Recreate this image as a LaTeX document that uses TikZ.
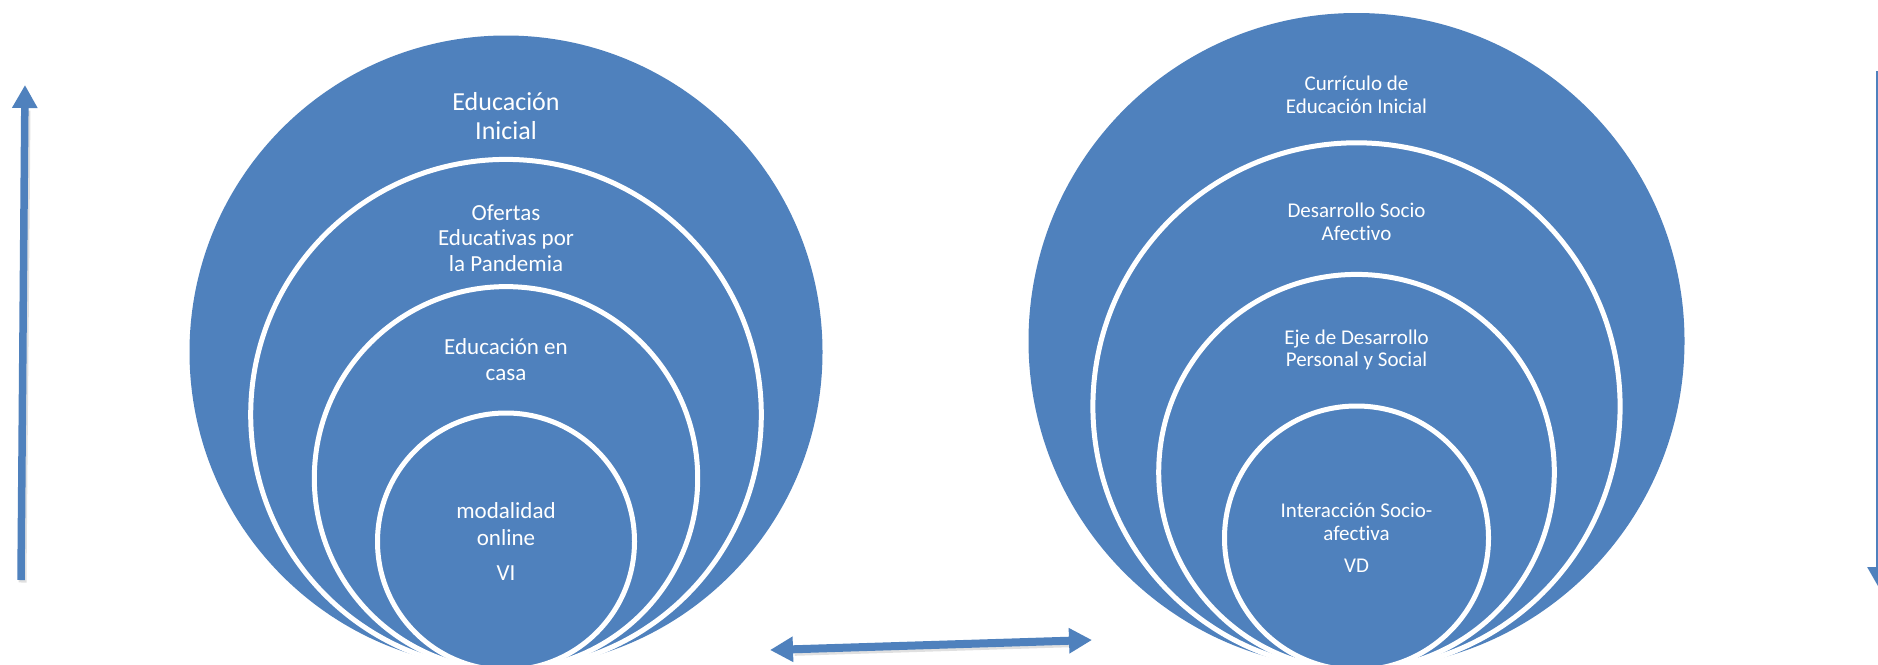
\documentclass[tikz,border=0pt]{standalone}
\usepackage{fontspec}
\setmainfont{Carlito}[Ligatures={NoCommon,NoRare,NoDiscretionary}]
\usetikzlibrary{arrows.meta,calc}
\definecolor{smartblue}{HTML}{4F81BD}
\tikzset{
  outerc/.style={circle, fill=smartblue, draw=none, inner sep=0pt, outer sep=0pt},
  ringc/.style={circle, fill=smartblue, draw=white, line width=5pt, inner sep=0pt, outer sep=0pt},
  txtbig/.style={text=white, anchor=base, inner sep=0pt, font=\fontsize{26}{29}\selectfont},
  txtmid/.style={text=white, anchor=base, inner sep=0pt, font=\fontsize{23}{26}\selectfont},
  txtsml/.style={text=white, anchor=base, inner sep=0pt, font=\fontsize{21}{23}\selectfont},
  blockarrow/.style={draw=smartblue, line width=7.5pt, -{Triangle[width=24pt,length=23pt]}},
  blockdouble/.style={draw=smartblue, line width=8pt, {Triangle[width=24pt,length=23pt]}-{Triangle[width=24pt,length=23pt]}},
  shadowline/.style={draw=black, draw opacity=0.12, line width=8pt},
}
\begin{document}
\begin{tikzpicture}[x=1pt,y=-1pt]
\useasboundingbox (0,0) rectangle (1878,664);
\fill[white] (0,0) rectangle (1878,664);

% ---------- left nested circles ----------
\node[outerc, minimum size=633pt] (L1) at (506,352) {};
\node[ringc, minimum size=510.6pt] (L2) at (506,414.7) {};
\node[ringc, minimum size=383.4pt] (L3) at (506,478.3) {};
\node[ringc, minimum size=257pt] (L4) at (506,541.5) {};

\node[txtbig] (l1a) at (506,110) {Educación};
\node[txtbig] (l1b) at (506,139) {Inicial};
\node[txtmid] (l2a) at (506,220.5) {Ofertas};
\node[txtmid] (l2b) at (506,245.8) {Educativas por};
\node[txtmid] (l2c) at (506,271.8) {la Pandemia};
\node[txtmid] (l3a) at (506,354.2) {Educación en};
\node[txtmid] (l3b) at (506,380.2) {casa};
\node[txtmid] (l4a) at (506,518.2) {modalidad};
\node[txtmid] (l4b) at (506,545) {online};
\node[txtmid] (l4c) at (506,580.7) {VI};

% ---------- right nested circles ----------
\node[outerc, minimum size=656pt] (R1) at (1356.5,341) {};
\node[ringc, minimum size=527.2pt] (R2) at (1356.5,406.4) {};
\node[ringc, minimum size=395.6pt] (R3) at (1356.5,472.2) {};
\node[ringc, minimum size=264pt] (R4) at (1356.5,538) {};

\node[txtsml] (r1a) at (1356.5,90.7) {Currículo de};
\node[txtsml] (r1b) at (1356.5,113.3) {Educación Inicial};
\node[txtsml] (r2a) at (1356.5,217.3) {Desarrollo Socio};
\node[txtsml] (r2b) at (1356.5,240) {Afectivo};
\node[txtsml] (r3a) at (1356.5,344) {Eje de Desarrollo};
\node[txtsml] (r3b) at (1356.5,366.7) {Personal y Social};
\node[txtsml] (r4a) at (1356.5,517) {Interacción Socio-};
\node[txtsml] (r4b) at (1356.5,540.6) {afectiva};
\node[txtsml] (r4c) at (1356.5,572) {VD};

% ---------- arrows ----------
\coordinate (la1) at (21,580);
\coordinate (la2) at (25,85);
\coordinate (ra1) at (1880,71);
\coordinate (ra2) at (1880,590);
\coordinate (ba1) at (770,650);
\coordinate (ba2) at (1092,640);

\draw[shadowline, transform canvas={shift={(1.5pt,-2.5pt)}}] (la1) -- ($(la2)+(0,23)$);
\draw[shadowline, transform canvas={shift={(1.5pt,-2.5pt)}}] ($(ba1)+(23,-0.7)$) -- ($(ba2)+(-23,0.7)$);

\draw[blockarrow] (la1) -- (la2);
\draw[blockarrow] (ra1) -- (ra2);
\draw[blockdouble] (ba1) -- (ba2);
\end{tikzpicture}
\end{document}
